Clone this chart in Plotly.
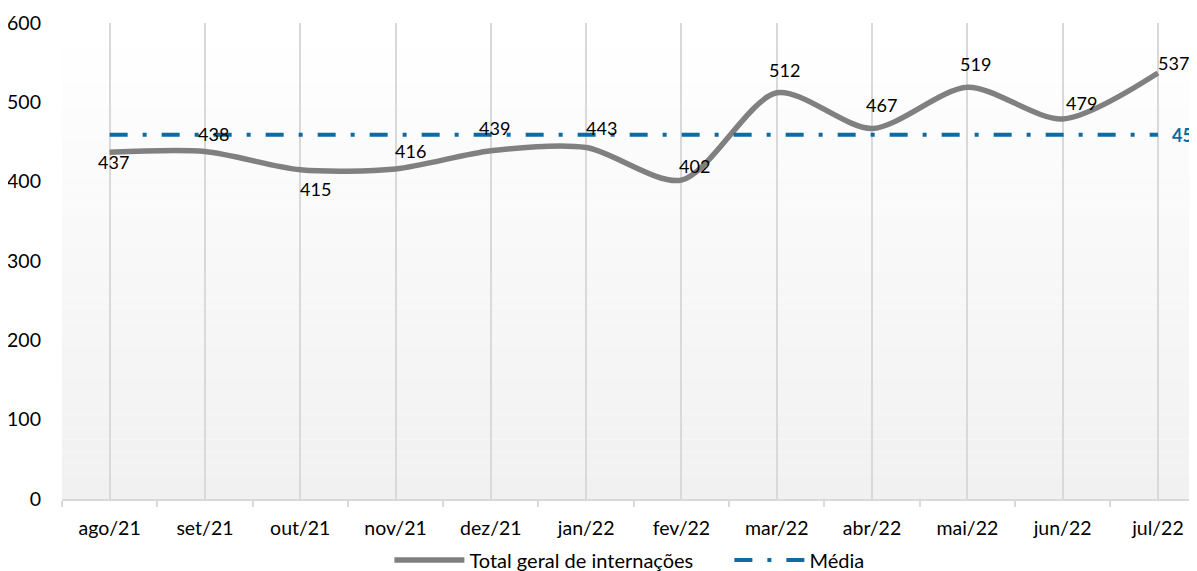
import plotly.graph_objects as go

months = ["ago/21", "set/21", "out/21", "nov/21", "dez/21", "jan/22",
          "fev/22", "mar/22", "abr/22", "mai/22", "jun/22", "jul/22"]
total = [437, 438, 415, 416, 439, 443, 402, 512, 467, 519, 479, 537]
media_value = 459
media = [media_value] * len(months)
y_ticks = [0, 100, 200, 300, 400, 500, 600]

# label offsets (px) for the data labels, style only
label_dx = [4, 9, 15, 15, 4, 15, 13, 8, 9, 8, 19, 16]
label_dy = [-10, 18, -19, 18, 23, 20, 14, 23, 24, 23, 16, 10]

x = list(range(len(months)))
fig = go.Figure()

# gradient plot background
n = 40
top, bottom = 600, 0
for i in range(n):
    y0 = bottom + (top - bottom) * i / n
    y1 = bottom + (top - bottom) * (i + 1) / n
    t = i / (n - 1)
    c = int(round(241 + (255 - 241) * t))
    fig.add_shape(type="rect", xref="paper", yref="y", x0=0, x1=1, y0=y0, y1=y1,
                  fillcolor=f"rgb({c},{c},{c})", line=dict(width=0), layer="below")

fig.add_trace(go.Scatter(
    x=x, y=total, mode="lines", name="Total geral de internações",
    line=dict(color="#808080", width=5.5, shape="spline", smoothing=0.8),
))
fig.add_trace(go.Scatter(
    x=x, y=media, mode="lines", name="Média",
    line=dict(color="#0e6aa0", width=4, dash="18px,15px,4px,15px"),
))

for i, v in enumerate(total):
    fig.add_annotation(x=x[i], y=v, text=str(v), showarrow=False,
                       xshift=label_dx[i], yshift=label_dy[i],
                       font=dict(size=18, color="#000000", family="Lato"))
fig.add_annotation(x=x[-1], y=media_value, text=f"<b>{media_value}</b>", showarrow=False,
                   xshift=12, yshift=0, xanchor="left",
                   font=dict(size=18, color="#0e6aa0", family="Lato"))

# page body has an 8px margin, so the figure is sized to fill the rest of the window
fig.update_layout(
    width=1189, height=563,
    margin=dict(l=54, r=0, t=15, b=72, autoexpand=False),
    paper_bgcolor="white", plot_bgcolor="white",
    font=dict(family="Lato", size=19.5, color="#000000"),
    showlegend=True,
    legend=dict(orientation="h", x=0.588, xanchor="center", y=-0.128, yanchor="middle",
                itemwidth=70, entrywidth=255, font=dict(size=20), bgcolor="rgba(0,0,0,0)",
                tracegroupgap=0),
    xaxis=dict(
        range=[-0.5, 11.41], tickvals=x, ticktext=months, automargin=False,
        showgrid=True, gridcolor="#d9d9d9", gridwidth=1.5,
        showline=True, linecolor="#d9d9d9", linewidth=1.5,
        ticks="", ticklabelstandoff=11, zeroline=False,
        minor=dict(tickvals=[i - 0.5 for i in range(13)], ticks="outside",
                   ticklen=6, tickcolor="#d9d9d9", tickwidth=1.5, showgrid=False),
    ),
    yaxis=dict(
        range=[0, 600], tickvals=y_ticks, showgrid=False, zeroline=False,
        showline=False, ticks="", ticklabelstandoff=20, automargin=False,
    ),
)

fig.write_html("out.html")
